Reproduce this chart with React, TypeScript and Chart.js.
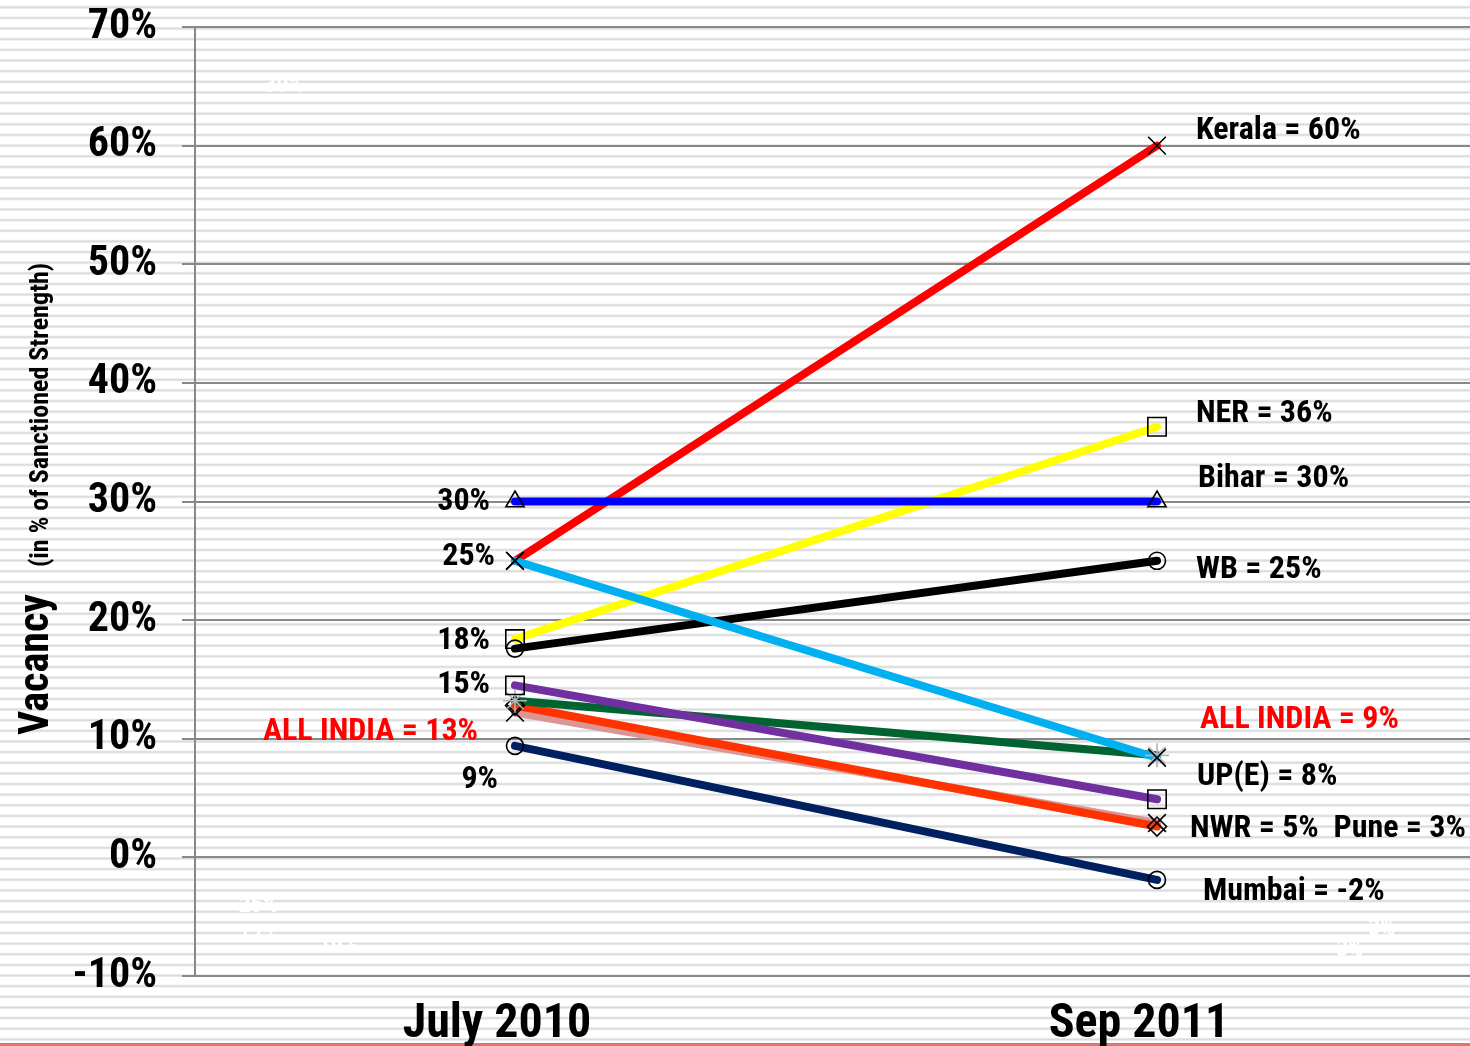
import React, { useEffect, useRef } from "react";
import { Chart, registerables } from "chart.js";

Chart.register(...registerables);

// ---------- DATA ----------
const categories = ["July 2010", "Sep 2011"];
const yTickValues = [-10, 0, 10, 20, 30, 40, 50, 60, 70];

const keralaValues = [25.0, 60.0];
const nerValues = [18.4, 36.3];
const biharValues = [30.0, 30.0];
const wbValues = [17.6, 25.0];
const upeValues = [25.0, 8.4];
const allIndiaValues = [13.2, 8.6];
const nwrValues = [14.5, 4.9];
const otherValues = [12.8, 2.6];
const puneValues = [12.2, 2.9];
const mumbaiValues = [9.4, -1.9];

const leftLabels = [
  { text: "30%", value: 30.0, red: false },
  { text: "25%", value: 25.3, red: false },
  { text: "18%", value: 18.2, red: false },
  { text: "15%", value: 14.5, red: false },
  { text: "ALL INDIA = 13%", value: 10.6, red: true },
  { text: "9%", value: 6.5, red: false },
];
const rightLabels = [
  { text: "Kerala = 60%", value: 61.2, red: false },
  { text: "NER = 36%", value: 37.4, red: false },
  { text: "Bihar = 30%", value: 31.9, red: false },
  { text: "WB = 25%", value: 24.2, red: false },
  { text: "ALL INDIA = 9%", value: 11.6, red: true },
  { text: "UP(E) = 8%", value: 6.8, red: false },
  { text: "NWR = 5%  Pune = 3%", value: 2.4, red: false },
  { text: "Mumbai = -2%", value: -2.9, red: false },
];
// faint white remnants in the original slide
const ghostLabels = [
  { text: "30%", value: 65.0, cat: -0.36 },
  { text: "25%", value: -4.1, cat: -0.40 },
  { text: "12%", value: -6.6, cat: -0.40 },
  { text: "10%", value: -7.5, cat: -0.275 },
  { text: "3%", value: -6.0, cat: 1.35 },
  { text: "3%", value: -7.8, cat: 1.30 },
];

// ---------- STYLE ----------
const FONT = "'Liberation Sans Narrow', 'Arial Narrow', 'Roboto Condensed', 'DejaVu Sans Condensed', sans-serif";

type Series = {
  name: string;
  values: number[];
  color: string;
  marker: string;
  markerColor: string;
  radius: number;
};

// first = drawn on top
const series: Series[] = [
  { name: "Bihar", values: biharValues, color: "#0000ff", marker: "triangle", markerColor: "#000", radius: 10.5 },
  { name: "UP(E)", values: upeValues, color: "#00b0f0", marker: "crossRot", markerColor: "#000", radius: 12.5 },
  { name: "NWR", values: nwrValues, color: "#7030a0", marker: "rect", markerColor: "#000", radius: 13 },
  { name: "Kerala", values: keralaValues, color: "#ff0000", marker: "crossRot", markerColor: "#000", radius: 12.5 },
  { name: "NER", values: nerValues, color: "#ffff00", marker: "rect", markerColor: "#000", radius: 13 },
  { name: "WB", values: wbValues, color: "#000000", marker: "circle", markerColor: "#000", radius: 8.5 },
  { name: "ALL INDIA", values: allIndiaValues, color: "#006430", marker: "star", markerColor: "#b4b4b4", radius: 12 },
  { name: "Other", values: otherValues, color: "#ff3300", marker: "rectRot", markerColor: "#000", radius: 9.5 },
  { name: "Pune", values: puneValues, color: "#d99694", marker: "crossRot", markerColor: "#000", radius: 12.5 },
  { name: "Mumbai", values: mumbaiValues, color: "#002060", marker: "circle", markerColor: "#000", radius: 8.5 },
];

const toPoints = (vals: number[]) => vals.map((v, i) => ({ x: i, y: v }));

const backgroundPlugin = {
  id: "bgStripes",
  beforeDraw(chart: any) {
    const { ctx, width, height } = chart;
    ctx.save();
    ctx.fillStyle = "#ffffff";
    ctx.fillRect(0, 0, width, height);
    for (let y = 7.3; y < height; y += 10.64) {
      ctx.fillStyle = "#ececec";
      ctx.fillRect(0, y - 1.5, width, 3);
      ctx.fillStyle = "#dcdcdc";
      ctx.fillRect(0, y - 0.75, width, 1.5);
    }
    ctx.fillStyle = "#e27272";
    ctx.fillRect(0, 1043, width, 3);
    ctx.restore();
  },
};

const textPlugin = {
  id: "texts",
  afterDraw(chart: any) {
    const { ctx } = chart;
    const xs = chart.scales.x;
    const ys = chart.scales.y;
    ctx.save();
    // y title
    ctx.save();
    ctx.translate(48, 735);
    ctx.rotate(-Math.PI / 2);
    ctx.fillStyle = "#000";
    ctx.textBaseline = "alphabetic";
    ctx.textAlign = "left";
    ctx.font = "bold 42px " + FONT;
    ctx.fillText("Vacancy", 0, 0);
    const w = ctx.measureText("Vacancy").width;
    ctx.font = "bold 26px " + FONT;
    ctx.fillText("(in % of Sanctioned Strength)", w + 27, 0);
    ctx.restore();

    ctx.font = "bold 32px " + FONT;
    ctx.textBaseline = "middle";
    // left labels
    ctx.textAlign = "right";
    const x0 = xs.getPixelForValue(0);
    const leftOffsets = [-25, -20, -25, -25, -37, -17];
    leftLabels.forEach((l, i) => {
      ctx.fillStyle = l.red ? "#ff0000" : "#000";
      ctx.fillText(l.text, x0 + leftOffsets[i], ys.getPixelForValue(l.value));
    });
    // right labels
    ctx.textAlign = "left";
    const x1 = xs.getPixelForValue(1);
    const rightOffsets = [39, 39, 41, 39, 43, 40, 33, 46];
    rightLabels.forEach((l, i) => {
      ctx.fillStyle = l.red ? "#ff0000" : "#000";
      ctx.fillText(l.text, x1 + rightOffsets[i], ys.getPixelForValue(l.value));
    });
    // ghost labels
    ctx.textAlign = "center";
    ctx.font = "bold 24px " + FONT;
    ctx.fillStyle = "#ffffff";
    ghostLabels.forEach((l) => {
      ctx.fillText(l.text, xs.getPixelForValue(l.cat), ys.getPixelForValue(l.value));
    });
    ctx.restore();
  },
};

export default function App() {
  const ref = useRef<HTMLCanvasElement | null>(null);

  useEffect(() => {
    document.body.style.margin = "0";
    const canvas = ref.current;
    if (!canvas) return;

    const markerSets = series.map((s) => ({
      label: s.name + " markers",
      data: toPoints(s.values),
      showLine: false,
      pointStyle: s.marker,
      pointRadius: s.radius,
      pointBorderColor: s.markerColor,
      pointBackgroundColor: "rgba(0,0,0,0)",
      pointBorderWidth: 1.6,
      borderColor: "rgba(0,0,0,0)",
    }));
    const lineSets = series.map((s) => ({
      label: s.name,
      data: toPoints(s.values),
      showLine: true,
      borderColor: s.color,
      backgroundColor: s.color,
      borderWidth: 8,
      borderCapStyle: "round",
      pointRadius: 0,
      tension: 0,
    }));

    const chart = new Chart(canvas, {
      type: "scatter",
      data: { datasets: [...markerSets, ...lineSets] as any },
      options: {
        animation: false,
        responsive: false,
        devicePixelRatio: 1,
        layout: { autoPadding: false, padding: { top: 27, left: 0, right: 0, bottom: -2 } },
        plugins: { legend: { display: false }, tooltip: { enabled: false } },
        scales: {
          x: {
            type: "linear",
            min: -0.4984,
            max: 1.4875,
            afterBuildTicks: (scale: any) => {
              scale.ticks = categories.map((_, i) => ({ value: i }));
            },
            afterFit: (scale: any) => {
              scale.height = 72;
              scale.paddingLeft = 0;
              scale.paddingRight = 0;
            },
            grid: { display: false, drawTicks: false },
            border: { display: false },
            ticks: {
              callback: (v: any) => categories[v] ?? "",
              font: { family: FONT, size: 48, weight: "bold" },
              color: "#000",
              padding: 20,
              labelOffset: -18,
              maxRotation: 0,
              autoSkip: false,
            },
          },
          y: {
            type: "linear",
            min: -10,
            max: 70,
            afterBuildTicks: (scale: any) => {
              scale.ticks = yTickValues.map((v) => ({ value: v }));
            },
            afterFit: (scale: any) => {
              scale.width = 195;
              scale.paddingTop = 0;
              scale.paddingBottom = 0;
            },
            grid: { color: "#888888", lineWidth: 2, tickLength: 13, drawTicks: true },
            border: { display: true, color: "#888888", width: 2 },
            ticks: {
              callback: (v: any) => v + "%",
              font: { family: FONT, size: 42, weight: "bold" },
              color: "#000",
              padding: 25,
            },
          },
        },
      } as any,
      plugins: [backgroundPlugin, textPlugin],
    });
    return () => chart.destroy();
  }, []);

  return (
    <div style={{ width: 1470, height: 1046 }}>
      <canvas ref={ref} width={1470} height={1046} style={{ display: "block" }} />
    </div>
  );
}
